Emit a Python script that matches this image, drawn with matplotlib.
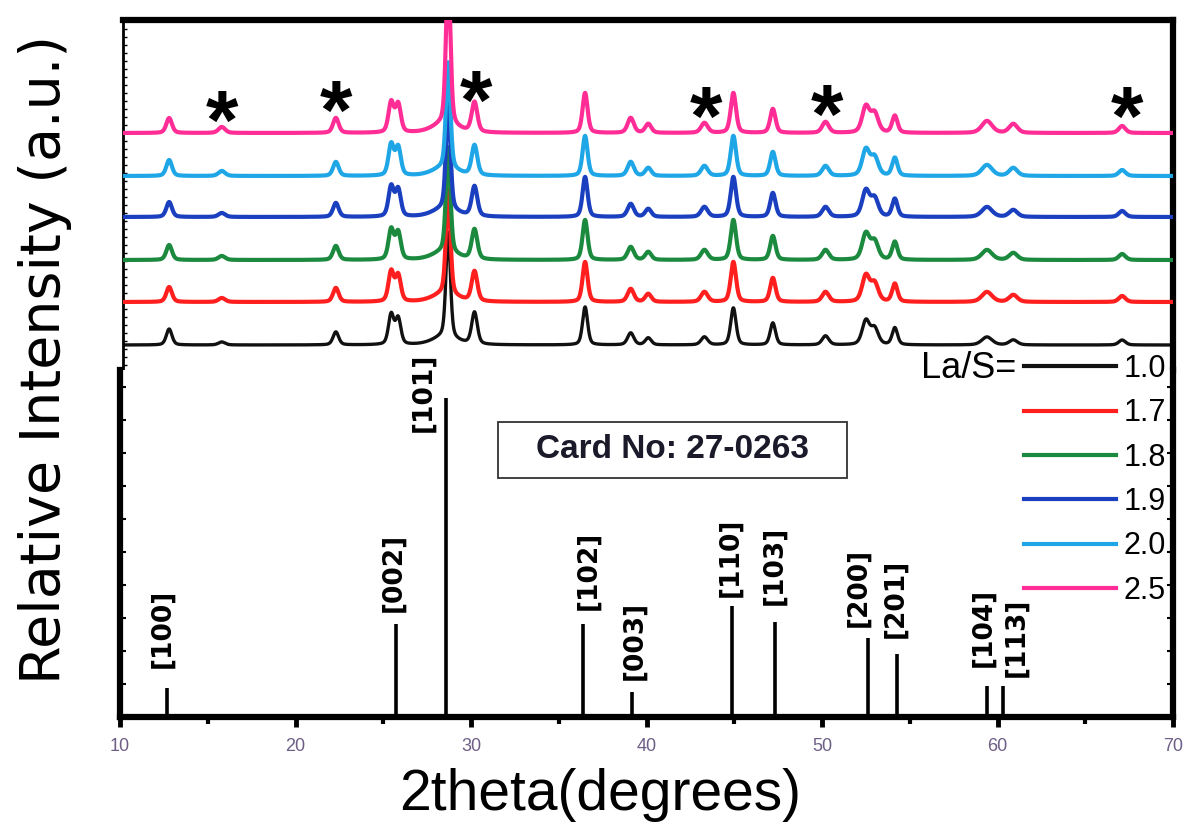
import numpy as np
import matplotlib
matplotlib.use('Agg')
from matplotlib import pyplot as plt
from matplotlib.patches import Rectangle

plt.rcParams['font.family'] = ['Liberation Sans', 'DejaVu Sans']

# XRD peaks seen in the patterns (2theta, FWHM in degrees)
peak_pos = [12.8, 15.8, 22.3, 25.45, 25.85, 28.5, 28.7, 30.2, 36.5, 39.1, 40.1,
            43.3, 44.95, 47.2, 50.2, 52.5, 53.0, 54.15, 59.4, 60.9, 67.1]
peak_fwhm = [0.38, 0.45, 0.38, 0.36, 0.36, 1.6, 0.3, 0.38, 0.34, 0.42, 0.4,
             0.45, 0.36, 0.36, 0.45, 0.5, 0.5, 0.36, 0.7, 0.55, 0.45]

# peak heights per sample (relative units)
samples = ['1.0', '1.7', '1.8', '1.9', '2.0', '2.5']
heights = {
    '1.0': [16, 3, 13, 30, 26, 8, 105, 32, 38, 12, 7, 8, 37, 22, 9, 24, 16, 17, 8, 5, 5],
    '1.7': [15, 4, 14, 30, 26, 8, 105, 30, 40, 13, 8, 10, 40, 24, 10, 26, 18, 18, 10, 7, 6],
    '1.8': [15, 4, 14, 30, 27, 8, 105, 30, 40, 13, 8, 10, 40, 24, 10, 26, 18, 18, 10, 7, 6],
    '1.9': [15, 4, 14, 30, 27, 8, 108, 30, 40, 13, 8, 10, 40, 24, 10, 26, 18, 18, 10, 7, 6],
    '2.0': [16, 5, 14, 31, 28, 8, 106, 30, 40, 14, 8, 10, 40, 24, 10, 26, 18, 18, 11, 8, 6],
    '2.5': [15, 6, 15, 30, 28, 9, 150, 30, 40, 15, 9, 10, 40, 24, 11, 26, 19, 17, 12, 9, 7],
}
offsets = [0, 43, 85, 128, 169, 212]
colors = ['#111111', '#ff1f1f', '#1b8a3e', '#1a3fbf', '#1fa6e6', '#ff2d95']

# asterisk marks (impurity phase)
star_pos = [15.8, 22.3, 30.3, 43.4, 50.3, 67.4]
star_y = [218, 228, 238, 222, 224, 222]

# JCPDS card 27-0263 sticks
card_pos = [12.7, 25.7, 28.6, 36.4, 39.2, 44.9, 47.3, 52.6, 54.3, 59.4, 60.3]
card_int = [29, 93, 319, 93, 25, 111, 95, 79, 63, 31, 31]
card_hkl = ['[100]', '[002]', '[101]', '[102]', '[003]', '[110]', '[103]',
            '[200]', '[201]', '[104]', '[113]']

W, H = 1191, 833
fig = plt.figure(figsize=(W / 100, H / 100), dpi=100)

def box(l, r, t, b):
    return [l / W, 1 - b / H, (r - l) / W, (b - t) / H]

# ---- top panel: measured patterns
ax1 = fig.add_axes(box(123, 1173, 20, 370))
x = np.linspace(10 + 3 / 17.55, 70, 4000)

def profile(h):
    y = np.zeros_like(x)
    for p, w, a in zip(peak_pos, peak_fwhm, h):
        g = np.exp(-4 * np.log(2) * (x - p) ** 2 / w ** 2)
        lo = 1 / (1 + 4 * (x - p) ** 2 / w ** 2)
        y += a * (0.6 * g + 0.4 * lo)
    return y

lines = []
for i, s in enumerate(samples):
    lw = 2.4 if i == 0 else 3.0
    ln, = ax1.plot(x, profile(heights[s]) + offsets[i], color=colors[i], lw=lw,
                   zorder=2 + i)
    lines.append(ln)

for sx, sy in zip(star_pos, star_y):
    ax1.text(sx, sy, '*', fontsize=60, fontweight='bold', ha='center',
             va='center', zorder=10)

ax1.set_xlim(10 + 3 / 17.55, 70)
ax1.set_ylim(-25, 325)
ax1.spines['bottom'].set_visible(False)
ax1.spines['top'].set_linewidth(4.5)
ax1.spines['right'].set_linewidth(4.5)
ax1.spines['left'].set_linewidth(2)
ax1.set_xticks([])
ax1.set_yticks(np.arange(-20, 330, 8))
ax1.tick_params(axis='y', direction='in', length=3, width=1, labelleft=False)

# ---- bottom panel: standard card
ax2 = fig.add_axes(box(120, 1173, 370, 717))
ax2.vlines(card_pos, 0, card_int, color='black', lw=2.6)

# label offsets (deg, px) so the tags sit like in the figure
lab_dx = [-0.3, -0.1, -1.3, 0.3, 0.1, -0.1, 0.0, -0.55, -0.1, -0.2, 0.8]
lab_dy = [20, 12, -34, 14, 12, 9, 17, 11, 16, 19, 9]
for p, h, t, dx, dy in zip(card_pos, card_int, card_hkl, lab_dx, lab_dy):
    ax2.text(p + dx, h + dy, t, rotation=90, ha='center', va='bottom',
             fontsize=19, fontweight='bold', family=['DejaVu Sans'])

fig.add_artist(Rectangle((498 / W, 1 - 478 / H), 349 / W, 56 / H,
                         transform=fig.transFigure, fill=False, lw=1.3,
                         ec='#333333'))
fig.text(673 / W, 1 - 450 / H, 'Card No: 27-0263', fontsize=24,
         fontweight='bold', ha='center', va='center', color='#1a1a2a')

ax2.set_xlim(10, 70)
ax2.set_ylim(0, 347)
ax2.spines['top'].set_visible(False)
for sp in ['left', 'bottom', 'right']:
    ax2.spines[sp].set_linewidth(4.5)
ax2.set_xticks(np.arange(10, 71, 10))
ax2.set_xticks(np.arange(15, 70, 10), minor=True)
ax2.tick_params(axis='x', which='major', direction='out', length=7, width=3.5,
                pad=8, labelsize=13, labelcolor='#6e5f86')
ax2.tick_params(axis='x', which='minor', direction='out', length=5, width=3)
ax2.set_yticks(np.arange(0, 347, 33))
ax2.tick_params(axis='y', direction='in', length=4, width=1.5, labelleft=False,
                right=True)

leg = ax2.legend(lines, samples, loc='upper right', frameon=False, fontsize=22,
                 handlelength=3.0, handletextpad=0.25, labelspacing=0.47,
                 borderpad=0, borderaxespad=0,
                 bbox_to_anchor=(1166 / W, 1 - 354 / H),
                 bbox_transform=fig.transFigure)
for lh in leg.get_lines():
    lh.set_linewidth(3)
fig.text(1016 / W, 1 - 368 / H, 'La/S=', fontsize=26, ha='right', va='center')

fig.text(600 / W, 1 - 795 / H, '2theta(degrees)', fontsize=41, ha='center',
         va='center')
fig.text(45 / W, 1 - 360 / H, 'Relative Intensity (a.u.)', fontsize=40,
         rotation=90, ha='center', va='center', family=['DejaVu Sans'])

fig.savefig('out.png', dpi=100)
